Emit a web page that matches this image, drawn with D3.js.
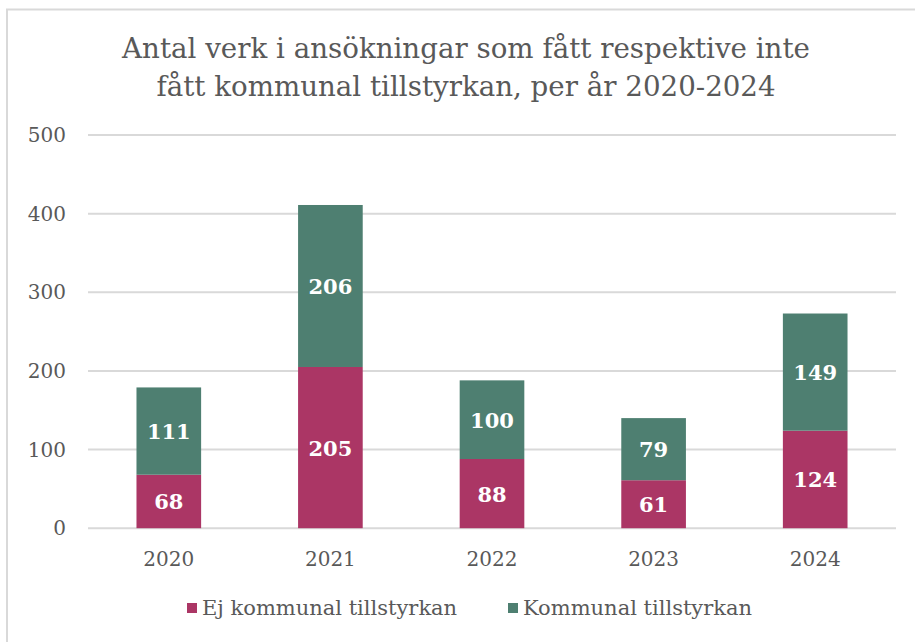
<!DOCTYPE html>
<html>
<head>
<meta charset="utf-8">
<script src="https://cdn.jsdelivr.net/npm/d3@7"></script>
<style>
  html, body { margin: 0; padding: 0; background: #fff; overflow: hidden; }
  svg { display: block; }
  text { font-family: Georgia, "DejaVu Serif", serif; }
</style>
</head>
<body>
<svg id="chart" width="915" height="642"></svg>
<script>
const years = ["2020", "2021", "2022", "2023", "2024"];
const ejKommunal = [68, 205, 88, 61, 124];
const kommunal = [111, 206, 100, 79, 149];
const seriesNames = ["Ej kommunal tillstyrkan", "Kommunal tillstyrkan"];
const colors = ["#ab3665", "#4e7f71"];
const yTicks = [0, 100, 200, 300, 400, 500];
const titleLines = ["Antal verk i ansökningar som fått respektive inte", "fått kommunal tillstyrkan, per år 2020-2024"];

const svg = d3.select("#chart");
const margin = { top: 135, left: 88, right: 19, bottom: 113 };
const width = +svg.attr("width");
const height = +svg.attr("height");
const innerWidth = width - margin.left - margin.right;
const innerHeight = height - margin.top - margin.bottom - 0.8;

// chart frame (only left & top visible)
svg.append("path")
    .attr("d", "M7,642 V9.5 H915")
    .attr("fill", "none")
    .attr("stroke", "#d9d9d9")
    .attr("stroke-width", 2);

const x = d3.scaleBand().domain(years).range([0, innerWidth]).paddingInner(0.6).paddingOuter(0.3);
const y = d3.scaleLinear().domain([0, 500]).range([innerHeight, 0]);

const g = svg.append("g").attr("transform", `translate(${margin.left},${margin.top})`);

// gridlines
g.append("g")
    .selectAll("line")
    .data(yTicks)
    .join("line")
    .attr("x1", 0)
    .attr("x2", innerWidth)
    .attr("y1", d => y(d))
    .attr("y2", d => y(d))
    .attr("stroke", "#d9d9d9")
    .attr("stroke-width", 2);

// y labels
g.append("g")
    .selectAll("text")
    .data(yTicks)
    .join("text")
    .attr("x", -22)
    .attr("y", d => y(d) + 7)
    .attr("text-anchor", "end")
    .attr("font-size", 20)
    .attr("fill", "#595959")
    .text(d => d);

// stacked bars
const table = years.map((yr, i) => ({ year: yr, ej: ejKommunal[i], k: kommunal[i] }));
const stack = d3.stack().keys(["ej", "k"])(table);

const layers = g.selectAll("g.layer")
    .data(stack)
    .join("g")
    .attr("class", "layer")
    .attr("fill", (d, i) => colors[i]);

layers.selectAll("rect")
    .data(d => d)
    .join("rect")
    .attr("x", d => x(d.data.year))
    .attr("width", x.bandwidth())
    .attr("y", d => y(d[1]))
    .attr("height", d => y(d[0]) - y(d[1]));

layers.selectAll("text")
    .data(d => d)
    .join("text")
    .attr("x", d => x(d.data.year) + x.bandwidth() / 2)
    .attr("y", d => (y(d[0]) + y(d[1])) / 2 + 8)
    .attr("text-anchor", "middle")
    .attr("font-size", 21)
    .attr("font-weight", "bold")
    .attr("fill", "#fff")
    .text(d => d[1] - d[0]);

// x labels
g.append("g")
    .selectAll("text")
    .data(years)
    .join("text")
    .attr("x", d => x(d) + x.bandwidth() / 2)
    .attr("y", innerHeight + 38)
    .attr("text-anchor", "middle")
    .attr("font-size", 20)
    .attr("fill", "#595959")
    .text(d => d);

// title
svg.append("g")
    .selectAll("text")
    .data(titleLines)
    .join("text")
    .attr("x", 466)
    .attr("y", (d, i) => 58 + i * 38)
    .attr("text-anchor", "middle")
    .attr("font-size", 27.7)
    .attr("fill", "#595959")
    .text(d => d);

// legend
const legendX = [187, 508];
const legend = svg.append("g")
    .selectAll("g")
    .data(seriesNames)
    .join("g")
    .attr("transform", (d, i) => `translate(${legendX[i]},608)`);

legend.append("rect")
    .attr("x", 0)
    .attr("y", -5)
    .attr("width", 10)
    .attr("height", 10)
    .attr("fill", (d, i) => colors[i]);

legend.append("text")
    .attr("x", 15)
    .attr("y", 7)
    .attr("font-size", 21)
    .attr("fill", "#595959")
    .text(d => d);
</script>
</body>
</html>
